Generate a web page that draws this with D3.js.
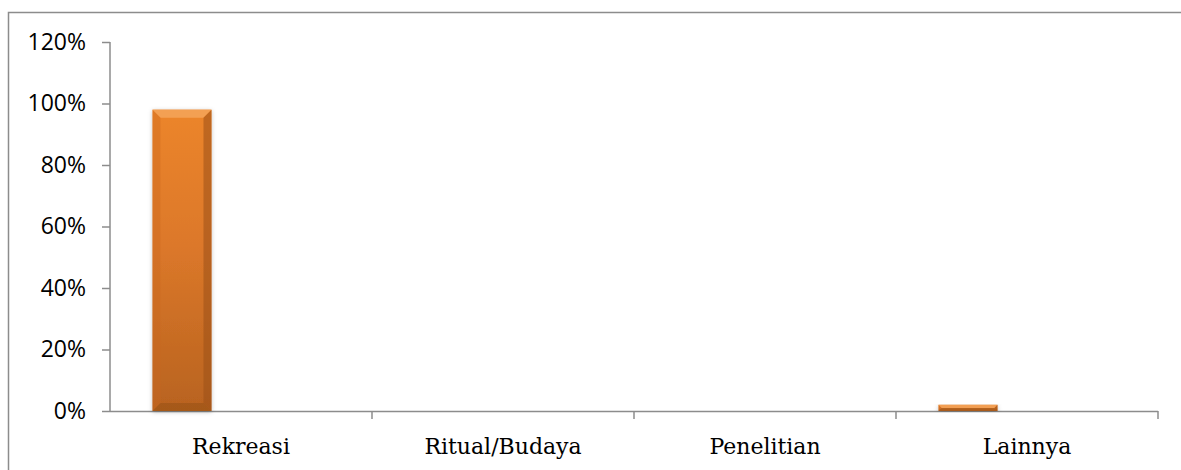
<!DOCTYPE html>
<html>
<head>
<meta charset="utf-8">
<script src="https://cdn.jsdelivr.net/npm/d3@7"></script>
<style>
  body { margin: 0; background: #fff; }
  svg { display: block; }
</style>
</head>
<body>
<script>
var categories = ["Rekreasi", "Ritual/Budaya", "Penelitian", "Lainnya"];
var values = [0.98, 0, 0, 0.02];
var yTicks = [0, 0.2, 0.4, 0.6, 0.8, 1.0, 1.2];
// excel cluster had 3 slots per category, only the first one is filled
var slots = [0, 1, 2];

var W = 1181, H = 470;
var margin = {top: 42, right: 23, bottom: 59, left: 110},
	width = W - margin.left - margin.right,
	height = H - margin.top - margin.bottom;

var svg = d3.select("body").append("svg")
	.attr("width", W)
	.attr("height", H);

// gradient + bevel
var defs = svg.append("defs");
var grad = defs.append("linearGradient")
	.attr("id", "barGrad")
	.attr("x1", 0).attr("y1", 0).attr("x2", 0).attr("y2", 1);
grad.append("stop").attr("offset", "0%").attr("stop-color", "#ec852b");
grad.append("stop").attr("offset", "45%").attr("stop-color", "#dc782a");
grad.append("stop").attr("offset", "100%").attr("stop-color", "#b8631f");

var shadow = defs.append("filter").attr("id", "shadow")
	.attr("x", "-20%").attr("y", "-5%").attr("width", "140%").attr("height", "110%");
shadow.append("feDropShadow")
	.attr("dx", 0).attr("dy", 1).attr("stdDeviation", 2)
	.attr("flood-color", "#000").attr("flood-opacity", 0.25);

// outer frame (right / bottom edges run off the picture)
svg.append("rect")
	.attr("x", 8.5).attr("y", 12.5)
	.attr("width", W + 10).attr("height", H + 10)
	.attr("fill", "none")
	.attr("stroke", "#8c8c8c")
	.attr("stroke-width", 1.5);

var main = svg.append("g")
	.attr("transform", "translate(" + margin.left + "," + margin.top + ")");

var x = d3.scaleBand()
	.domain(categories)
	.range([0, width])
	.padding(0);

var xs = d3.scaleBand()
	.domain(slots)
	.range([0, x.bandwidth()])
	.paddingInner(0)
	.paddingOuter(0.72);

var y = d3.scaleLinear()
	.domain([0, 1.2])
	.range([height, 0]);

// y axis
var yAxis = d3.axisLeft(y)
	.tickValues(yTicks)
	.tickSize(8)
	.tickPadding(16)
	.tickFormat(function(d) { return Math.round(d * 100) + "%"; });

var gy = main.append("g")
	.attr("class", "axis")
	.call(yAxis);
gy.select(".domain").attr("stroke", "#8c8c8c").attr("stroke-width", 1.5)
	.attr("d", "M0," + height + "V0");
gy.selectAll(".tick line").attr("stroke", "#8c8c8c").attr("stroke-width", 1.5);
gy.selectAll(".tick text")
	.attr("fill", "#000")
	.style("font-family", "'Open Sans', 'Liberation Sans', sans-serif")
	.style("font-size", "23px");

// x axis
var xAxis = d3.axisBottom(x)
	.tickSize(0)
	.tickPadding(27);

var gx = main.append("g")
	.attr("class", "axis")
	.attr("transform", "translate(0," + height + ")")
	.call(xAxis);
gx.select(".domain").remove();
gx.selectAll(".tick text")
	.attr("fill", "#000")
	.style("font-family", "'DejaVu Serif', serif")
	.style("font-size", "22px");

main.append("line")
	.attr("x1", 0).attr("x2", width)
	.attr("y1", height + 0.5).attr("y2", height + 0.5)
	.attr("stroke", "#8c8c8c").attr("stroke-width", 1.5);

// category separators
main.selectAll(".sep")
	.data(categories)
	.enter().append("line")
	.attr("class", "sep")
	.attr("x1", function(d) { return x(d) + x.bandwidth(); })
	.attr("x2", function(d) { return x(d) + x.bandwidth(); })
	.attr("y1", height)
	.attr("y2", height + 8)
	.attr("stroke", "#8c8c8c").attr("stroke-width", 1.5);

// bars
var bar = main.selectAll(".bar")
	.data(categories.map(function(c, i) { return {cat: c, v: values[i]}; }).filter(function(d) { return d.v > 0; }))
	.enter().append("g")
	.attr("class", "bar")
	.attr("transform", function(d) { return "translate(" + (x(d.cat) + xs(0)) + "," + y(d.v) + ")"; });

var bw = xs.bandwidth();

bar.append("rect")
	.attr("width", bw)
	.attr("height", function(d) { return height - y(d.v); })
	.attr("fill", "url(#barGrad)")
	.attr("filter", "url(#shadow)");

// bevel edges
var bev = function(d) { return Math.min(8, (height - y(d.v)) / 2); };

bar.append("path") // top
	.attr("d", function(d) { var b = bev(d); return "M0,0H" + bw + "L" + (bw - b) + "," + b + "H" + b + "Z"; })
	.attr("fill", "#f5a45a").attr("opacity", 0.85);
bar.append("path") // right
	.attr("d", function(d) { var b = bev(d), h = height - y(d.v); return "M" + bw + ",0V" + h + "L" + (bw - b) + "," + (h - b) + "V" + b + "Z"; })
	.attr("fill", "#9a5018").attr("opacity", 0.55);
bar.append("path") // left
	.attr("d", function(d) { var b = bev(d), h = height - y(d.v); return "M0,0V" + h + "L" + b + "," + (h - b) + "V" + b + "Z"; })
	.attr("fill", "#c9681f").attr("opacity", 0.35);
bar.append("path") // bottom
	.attr("d", function(d) { var b = bev(d), h = height - y(d.v); return "M0," + h + "H" + bw + "L" + (bw - b) + "," + (h - b) + "H" + b + "Z"; })
	.attr("fill", "#8a4a15").attr("opacity", 0.4);
</script>
</body>
</html>
